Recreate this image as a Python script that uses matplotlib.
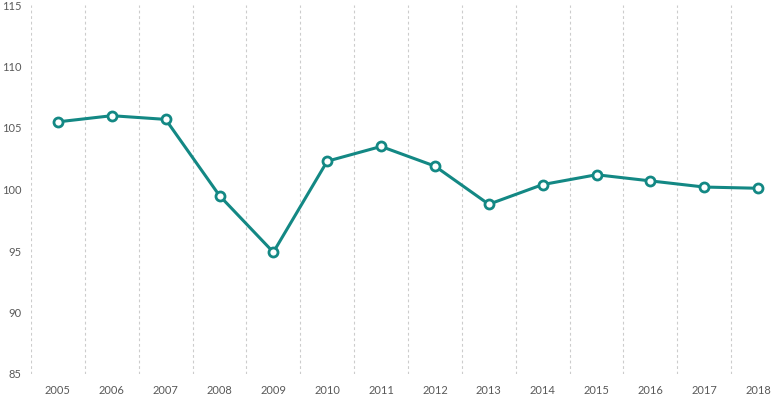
import matplotlib
matplotlib.use("Agg")
import matplotlib.pyplot as plt
import numpy as np

years = ["2005", "2006", "2007", "2008", "2009", "2010", "2011",
         "2012", "2013", "2014", "2015", "2016", "2017", "2018"]
values = [105.5, 106.0, 105.7, 99.5, 94.9, 102.3, 103.5,
          101.9, 98.8, 100.4, 101.2, 100.7, 100.2, 100.1]
y_ticks = [85, 90, 95, 100, 105, 110, 115]

LINE = "#138884"
TEXT = "#595959"

plt.rcParams["font.family"] = ["Lato", "DejaVu Sans"]

fig = plt.figure(figsize=(7.71, 3.95), dpi=100)
ax = fig.add_axes([31 / 771, 21 / 395, 754 / 771, 369 / 395])

x = np.arange(len(years))
# dashed separators between categories
for b in np.arange(len(years) + 1) - 0.5:
    ax.axvline(b, color="#cccccc", lw=0.8, ls=(0, (2.5, 2.5)), zorder=1)

ax.plot(x, values, color=LINE, lw=2.2, marker="o", ms=6.5,
        mfc="white", mec=LINE, mew=2, zorder=3, clip_on=False)

ax.set_xlim(-0.5, len(years) - 0.5)
ax.set_ylim(85, 115)
ax.set_yticks(y_ticks)
ax.set_xticks(x)
ax.set_xticklabels(years)
ax.tick_params(axis="both", length=0, labelsize=8, colors=TEXT)
ax.tick_params(axis="x", pad=8)
ax.tick_params(axis="y", pad=7)
for s in ax.spines.values():
    s.set_visible(False)

fig.savefig("out.png", dpi=100)
